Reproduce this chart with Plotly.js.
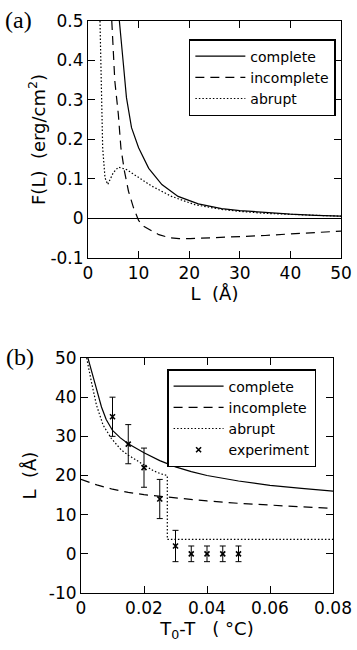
<!DOCTYPE html>
<html>
<head>
<meta charset="utf-8">
<script src="https://cdn.plot.ly/plotly-3.0.1.min.js"></script>
<style>html,body{margin:0;padding:0;background:#fff;}#chart{width:357px;height:650px;}</style>
</head>
<body>
<div id="chart"></div>
<script>
// ---- Panel (a): F(L) vs L ----
const completeL = [6.2, 6.5, 7, 7.6, 8.6, 10, 12, 14.6, 17.8, 21.8, 26.4, 30, 35, 40, 45, 50];
const completeF = [0.5, 0.45, 0.39, 0.306, 0.23, 0.179, 0.127, 0.086, 0.056, 0.037, 0.025, 0.02, 0.015, 0.011, 0.008, 0.006];

const incompleteL = [4.7, 5.3, 6.0, 6.5, 7.2, 8.0, 9.0, 10.0, 11, 12.6, 14, 16.2, 18, 20.2, 25, 30, 35, 40, 45, 50];
const incompleteF = [0.5, 0.348, 0.263, 0.179, 0.12, 0.069, 0.027, -0.005, -0.02, -0.032, -0.041, -0.049, -0.051, -0.051, -0.049, -0.046, -0.043, -0.039, -0.035, -0.032];

const abruptL = [2.37, 2.57, 2.9, 3.36, 3.9, 5.0, 6.0, 7.6, 10, 12.6, 16.5, 21.1, 26.4, 30, 35, 40, 45, 50];
const abruptF = [0.5, 0.348, 0.179, 0.103, 0.086, 0.116, 0.13, 0.124, 0.103, 0.082, 0.056, 0.035, 0.023, 0.018, 0.013, 0.01, 0.008, 0.006];

// ---- Panel (b): L vs T0-T ----
const completeT = [0.0022, 0.003, 0.0043, 0.0065, 0.008, 0.01, 0.0125, 0.015, 0.02, 0.025, 0.03, 0.035, 0.04, 0.05, 0.06, 0.07, 0.08];
const completeLb = [50, 47.5, 43.9, 37.5, 34.3, 31.5, 29.6, 28.1, 25.8, 23.8, 22.2, 21.0, 20.0, 18.6, 17.5, 16.7, 16.0];

const incompleteT = [0, 0.005, 0.01, 0.015, 0.02, 0.025, 0.03, 0.04, 0.05, 0.06, 0.07, 0.08];
const incompleteLb = [19, 17.6, 16.5, 15.7, 15.1, 14.7, 14.3, 13.5, 12.9, 12.4, 12.0, 11.6];

const abruptT = [0.0018, 0.0025, 0.0033, 0.0049, 0.007, 0.0096, 0.0128, 0.015, 0.017, 0.02, 0.023, 0.0255, 0.0274, 0.0274, 0.08];
const abruptLb = [50, 47, 43.9, 38, 32.9, 29.5, 26.5, 25.2, 24.2, 22.6, 21.2, 20.4, 20.0, 3.7, 3.7];

const expT = [0.01, 0.015, 0.02, 0.025, 0.03, 0.035, 0.04, 0.045, 0.05];
const expL = [35, 28, 22, 14, 2, 0, 0, 0, 0];
const expErr = [5, 5, 5, 5, 4, 2, 2, 2, 2];

// ---- Tick labels ----
const xTickValsA = [0, 10, 20, 30, 40, 50];
const xTickTextA = ['0', '10', '20', '30', '40', '50'];
const yTickValsA = [-0.1, 0, 0.1, 0.2, 0.3, 0.4, 0.5];
const yTickTextA = ['-0.1', '0', '0.1', '0.2', '0.3', '0.4', '0.5'];
const xTickValsB = [0, 0.02, 0.04, 0.06, 0.08];
const xTickTextB = ['0', '0.02', '0.04', '0.06', '0.08'];
const yTickValsB = [-10, 0, 10, 20, 30, 40, 50];
const yTickTextB = ['-10', '0', '10', '20', '30', '40', '50'];

const seriesNames = ['complete', 'incomplete', 'abrupt', 'experiment'];

const lw = 1.2;
const traces = [
  {x: completeL, y: completeF, mode: 'lines', name: seriesNames[0], line: {color: 'black', width: lw}, xaxis: 'x', yaxis: 'y', legend: 'legend'},
  {x: incompleteL, y: incompleteF, mode: 'lines', name: seriesNames[1], line: {color: 'black', width: lw, dash: '9px,6px'}, xaxis: 'x', yaxis: 'y', legend: 'legend'},
  {x: abruptL, y: abruptF, mode: 'lines', name: seriesNames[2], line: {color: 'black', width: lw, dash: '1.5px,2px'}, xaxis: 'x', yaxis: 'y', legend: 'legend'},
  {x: completeT, y: completeLb, mode: 'lines', name: seriesNames[0], line: {color: 'black', width: lw}, xaxis: 'x2', yaxis: 'y2', legend: 'legend2'},
  {x: incompleteT, y: incompleteLb, mode: 'lines', name: seriesNames[1], line: {color: 'black', width: lw, dash: '9px,6px'}, xaxis: 'x2', yaxis: 'y2', legend: 'legend2'},
  {x: abruptT, y: abruptLb, mode: 'lines', name: seriesNames[2], line: {color: 'black', width: lw, dash: '1.5px,2px'}, xaxis: 'x2', yaxis: 'y2', legend: 'legend2'},
  {x: expT, y: expL, mode: 'markers', name: seriesNames[3],
   marker: {symbol: 'x-thin', size: 5, color: 'black', line: {color: 'black', width: 1.6}},
   error_y: {type: 'data', array: expErr, visible: true, color: 'black', thickness: 1, width: 3},
   xaxis: 'x2', yaxis: 'y2', legend: 'legend2'}
];

function axisBase(extra) {
  return Object.assign({
    showline: true, linecolor: '#000000', linewidth: 1, mirror: 'allticks',
    ticks: 'inside', ticklen: 7, tickwidth: 1, tickcolor: '#000000',
    showgrid: false, zeroline: false, tickmode: 'array',
    tickfont: {family: 'DejaVu Sans', size: 17, color: 'black'}
  }, extra);
}

// minor-tick overlay axis (no labels)
function minorAxis(extra) {
  return Object.assign({
    showline: false, mirror: 'allticks', ticks: 'inside', ticklen: 3, tickwidth: 1, tickcolor: '#000000',
    showticklabels: false, showgrid: false, zeroline: false, tickmode: 'linear', tick0: 0
  }, extra);
}

const layout = {
  width: 357, height: 650,
  margin: {l: 0, r: 0, t: 0, b: 0},
  paper_bgcolor: 'white', plot_bgcolor: 'white',
  font: {family: 'DejaVu Sans', color: 'black'},
  xaxis: axisBase({domain: [0.2465, 0.9552], anchor: 'y', range: [0, 50], tickvals: xTickValsA, ticktext: xTickTextA,
    title: {text: 'L\u00a0\u00a0(Å)', font: {size: 18, color: 'black'}, standoff: 0}}),
  yaxis: axisBase({domain: [0.6031, 0.9677], anchor: 'x', range: [-0.1, 0.5], tickvals: yTickValsA, ticktext: yTickTextA,
    zeroline: true, zerolinecolor: '#000000', zerolinewidth: 1,
    title: {text: 'F(L)\u00a0\u00a0(erg/cm<sup>2</sup>)', font: {size: 18, color: 'black'}, standoff: 0}}),
  xaxis2: axisBase({domain: [0.2269, 0.9328], anchor: 'y2', range: [0, 0.08], tickvals: xTickValsB, ticktext: xTickTextB,
    title: {text: 'T<sub>0</sub>-T\u00a0\u00a0\u00a0(\u00a0°C)', font: {size: 18, color: 'black'}, standoff: 0}}),
  yaxis2: axisBase({domain: [0.0877, 0.4492], anchor: 'x2', range: [-10, 50], tickvals: yTickValsB, ticktext: yTickTextB,
    title: {text: 'L\u00a0\u00a0(Å)', font: {size: 18, color: 'black'}, standoff: 7}}),
  xaxis3: minorAxis({overlaying: 'x2', anchor: 'y2', range: [0, 0.08], dtick: 0.004}),
  yaxis3: minorAxis({overlaying: 'y2', anchor: 'x2', range: [-10, 50], dtick: 2}),
  xaxis4: minorAxis({overlaying: 'x', anchor: 'y', range: [0, 50], dtick: 2}),
  yaxis4: minorAxis({overlaying: 'y', anchor: 'x', range: [-0.1, 0.5], dtick: 0.02}),
  legend: {x: 0.529, y: 0.94, xanchor: 'left', yanchor: 'top', bgcolor: 'white', bordercolor: 'black', borderwidth: 1.5,
    font: {family: 'DejaVu Sans', size: 14, color: 'black'}, tracegroupgap: 0, itemwidth: 50},
  legend2: {x: 0.468, y: 0.4323, xanchor: 'left', yanchor: 'top', bgcolor: 'white', bordercolor: 'black', borderwidth: 1.5,
    font: {family: 'DejaVu Sans', size: 14, color: 'black'}, tracegroupgap: 0, itemwidth: 50},
  annotations: [
    {text: '(a)', xref: 'paper', yref: 'paper', x: 0.008, y: 1 - 20 / 650, xanchor: 'left', yanchor: 'middle', showarrow: false,
     font: {family: 'Liberation Serif', size: 24, color: 'black'}},
    {text: '(b)', xref: 'paper', yref: 'paper', x: 0.012, y: 1 - 357 / 650, xanchor: 'left', yanchor: 'middle', showarrow: false,
     font: {family: 'Liberation Serif', size: 24, color: 'black'}}
  ],
  showlegend: true
};

Plotly.newPlot('chart', traces, layout, {displayModeBar: false, staticPlot: true});
</script>
</body>
</html>
